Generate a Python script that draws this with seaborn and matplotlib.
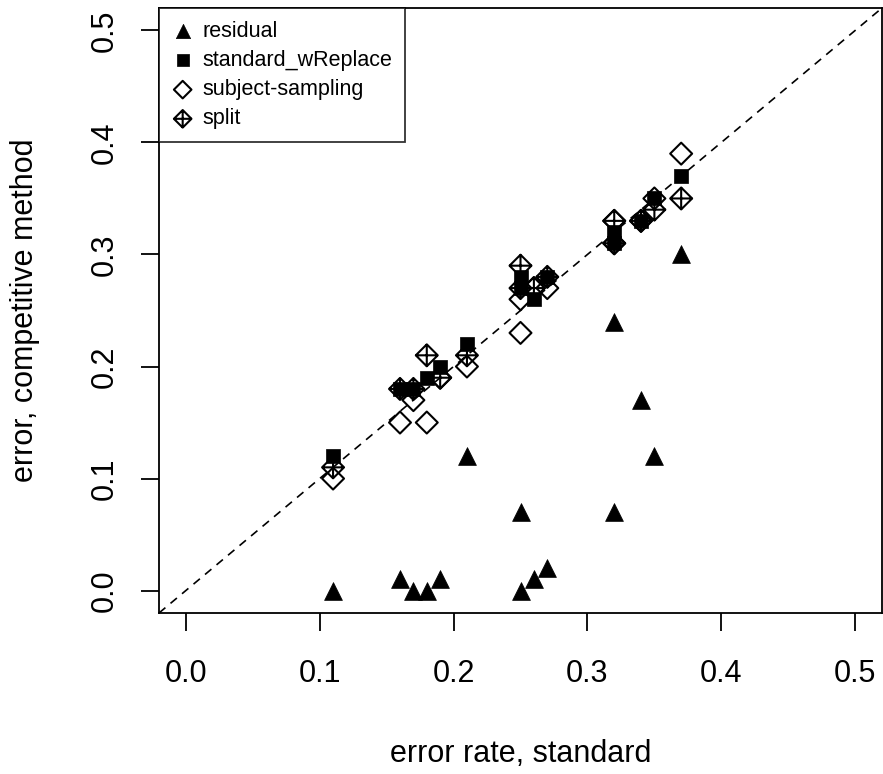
import numpy as np
import pandas as pd
import matplotlib
matplotlib.use("Agg")
import matplotlib.pyplot as plt
from matplotlib.path import Path
import seaborn as sns

# error rate of the standard method (one value per data set)
standard = [0.11, 0.16, 0.17, 0.18, 0.19, 0.21, 0.25, 0.25, 0.26, 0.27, 0.32, 0.32, 0.34, 0.35, 0.37]

# error of each competitive method
residual = [0.00, 0.01, 0.00, 0.00, 0.01, 0.12, 0.07, 0.00, 0.01, 0.02, 0.24, 0.07, 0.17, 0.12, 0.30]
standard_wreplace = [0.12, 0.18, 0.18, 0.19, 0.20, 0.22, 0.28, 0.27, 0.26, 0.28, 0.32, 0.31, 0.33, 0.35, 0.37]
subject_sampling = [0.10, 0.15, 0.17, 0.15, 0.19, 0.20, 0.23, 0.26, 0.27, 0.27, 0.31, 0.33, 0.33, 0.35, 0.39]
split = [0.11, 0.18, 0.18, 0.21, 0.19, 0.21, 0.29, 0.27, 0.27, 0.28, 0.33, 0.31, 0.33, 0.34, 0.35]

methods = ["residual", "standard_wReplace", "subject-sampling", "split"]
ticks = [0.0, 0.1, 0.2, 0.3, 0.4, 0.5]

df = pd.DataFrame({
    "standard": standard * 4,
    "competitive": residual + standard_wreplace + subject_sampling + split,
    "method": np.repeat(methods, len(standard)),
})

sns.set_style("white")
plt.rcParams["font.family"] = ["Liberation Sans", "DejaVu Sans"]
plt.rcParams["text.color"] = "black"
plt.rcParams["axes.labelcolor"] = "black"
plt.rcParams["xtick.color"] = "black"
plt.rcParams["ytick.color"] = "black"

# diamond with a cross inside (R pch 9)
diamond_plus = Path(
    [(0, 1), (1, 0), (0, -1), (-1, 0), (0, 1), (0, 1), (0, -1), (-1, 0), (1, 0)],
    [Path.MOVETO, Path.LINETO, Path.LINETO, Path.LINETO, Path.CLOSEPOLY,
     Path.MOVETO, Path.LINETO, Path.MOVETO, Path.LINETO],
)

styles = {
    "residual": dict(marker="^", s=165, color="black", edgecolor="black", linewidth=0.5),
    "standard_wReplace": dict(marker="s", s=100, color="black", edgecolor="black", linewidth=0.5),
    "subject-sampling": dict(marker="D", s=125, facecolor="none", edgecolor="black", linewidth=1.5),
    "split": dict(marker=diamond_plus, s=250, facecolor="none", edgecolor="black", linewidth=1.5),
}

fig = plt.figure(figsize=(8.83, 7.74), dpi=100)
ax = fig.add_axes([159 / 883, 1 - 613 / 774, 723 / 883, 605 / 774])

for m in methods:
    sub = df[df["method"] == m]
    sns.scatterplot(data=sub, x="standard", y="competitive", ax=ax, label=m, **styles[m])

ax.plot([-0.02, 0.52], [-0.02, 0.52], color="black", linestyle=(0, (5, 4)), linewidth=1.2, zorder=0)

ax.set_xlim(-0.02, 0.52)
ax.set_ylim(-0.02, 0.52)
ax.set_xticks(ticks)
ax.set_yticks(ticks)
ax.set_xticklabels([f"{t:.1f}" for t in ticks], fontsize=22)
ax.set_yticklabels([f"{t:.1f}" for t in ticks], fontsize=22, rotation=90, va="center")
ax.tick_params(axis="both", direction="out", length=13, width=1.3, color="black",
               bottom=True, left=True)
ax.tick_params(axis="x", pad=20)
ax.tick_params(axis="y", pad=15)
for sp in ax.spines.values():
    sp.set_color("black")
    sp.set_linewidth(1.3)

ax.set_xlabel("error rate, standard", fontsize=22, labelpad=36)
ax.set_ylabel("error, competitive method", fontsize=22, labelpad=36)

leg = ax.legend(loc="upper left", fontsize=15.5, frameon=True, fancybox=False,
                borderaxespad=0, handletextpad=0.4, handlelength=1.0,
                labelspacing=0.38, borderpad=0.6, markerscale=0.8)
leg.get_frame().set_edgecolor("black")
leg.get_frame().set_linewidth(1.3)

fig.savefig("out.png", dpi=100)
